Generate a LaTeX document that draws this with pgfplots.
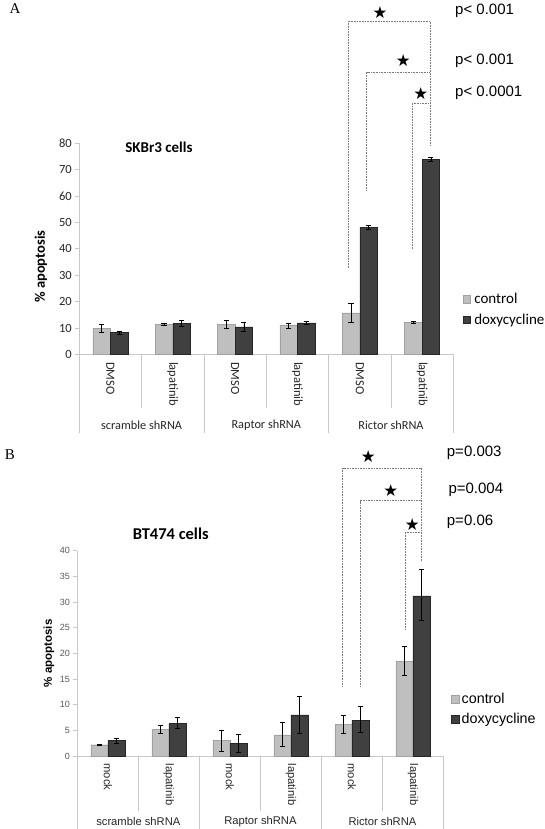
\documentclass[border=0pt]{standalone}
\usepackage{fontspec}
\setmainfont{Carlito}
\newfontfamily\arialf{Liberation Sans}
\newfontfamily\seriff{Liberation Serif}
\newfontfamily\dejavu{DejaVu Sans}
\usepackage{pgfplots}
\pgfplotsset{compat=1.18}
\usepackage{pgfplotstable}

\definecolor{ctrl}{HTML}{BFBFBF}
\definecolor{doxy}{HTML}{404040}
\definecolor{axgray}{HTML}{C8C8C8}
\definecolor{brk}{HTML}{7A7A7A}

\pgfplotstableread{
x cy cep cem dy dep dem
0 9.8 1.6 1.4 8.3 0.5 0.5
1 11.5 0.35 0.35 11.8 1.2 1.2
2 11.5 1.5 1.5 10.5 1.75 1.75
3 11.0 1.0 1.0 12.0 0.5 0.5
4 15.8 3.7 3.6 48.2 0.7 0.7
5 12.3 0.3 0.3 73.8 0.9 0.8
}\skbr

\pgfplotstableread{
x cy cep cem dy dep dem
0 2.2 0.15 0.15 3.0 0.45 0.45
1 5.2 0.7 0.7 6.3 1.3 1.0
2 3.0 2.1 2.0 2.5 1.8 1.8
3 4.1 2.4 2.3 8.0 3.7 3.5
4 6.1 1.8 1.6 7.0 2.6 2.3
5 18.5 2.8 2.7 31.2 5.1 4.8
}\btf

\pgfplotsset{
  panel/.style={
    scale only axis, anchor=south west,
    xmin=-0.5, xmax=5.5, ymin=0,
    axis lines*=left,
    axis line style={draw=axgray, line width=0.9pt},
    ybar=0pt,
    xtick={0,...,5}, xtick style={draw=none},
    tick align=outside, major tick length=4pt,
    ytick style={draw=axgray, line width=0.9pt},
    clip=false,
    xticklabel style={rotate=-90, anchor=west},
    /pgf/number format/assume math mode=true,
    legend image code/.code={\fill[##1] (0pt,-3.7pt) rectangle (7.4pt,3.7pt);},
    legend cell align=left,
  },
  cbar/.style={fill=ctrl, draw=ctrl!85!black, line width=0.4pt,
    error bars/.cd, y dir=both, y explicit,
    error bar style={black, line width=0.6pt},
    error mark options={black, rotate=90, mark size=2.6pt, line width=0.6pt}},
  dbar/.style={fill=doxy, draw=black!85, line width=0.4pt,
    error bars/.cd, y dir=both, y explicit,
    error bar style={black, line width=0.6pt},
    error mark options={black, rotate=90, mark size=2.6pt, line width=0.6pt}},
}

\begin{document}
\begin{tikzpicture}
\useasboundingbox (0,0) rectangle (545pt,829pt);

% ---------------- Panel A ----------------
\begin{axis}[panel,
  at={(79.3pt,474.5pt)}, width=374pt, height=211.2pt,
  ymax=80, ytick={0,10,...,80},
  bar width=17.5pt,
  xticklabels={DMSO,lapatinib,DMSO,lapatinib,DMSO,lapatinib},
  xticklabel style={font=\fontsize{12.5}{14}\selectfont, text=black!85},
  yticklabel style={font=\fontsize{12.5}{14}\selectfont, text=black!85},
  legend style={at={(axis description cs:1.0251,0.2131)}, anchor=west,
    draw=none, fill=none, inner sep=0pt, row sep=9pt, column sep=3.6pt,
    nodes={inner sep=0pt}, font=\fontsize{15}{17}\selectfont},
]
\addplot[cbar] table[x=x, y=cy, y error plus=cep, y error minus=cem] {\skbr};
\addplot[dbar] table[x=x, y=dy, y error plus=dep, y error minus=dem] {\skbr};
\legend{control, doxycycline}
\end{axis}

% ---------------- Panel B ----------------
\begin{axis}[panel,
  at={(77.3pt,73pt)}, width=366.2pt, height=205.3pt,
  ymax=40, ytick={0,5,...,40},
  bar width=17pt,
  xticklabels={mock,lapatinib,mock,lapatinib,mock,lapatinib},
  xticklabel style={font=\arialf\fontsize{11.2}{13}\selectfont, text=black!85},
  yticklabel style={font=\arialf\fontsize{9}{11}\selectfont, text=black!65},
  legend style={at={(axis description cs:1.0205,0.228)}, anchor=west,
    draw=none, fill=none, inner sep=0pt, row sep=8pt, column sep=2.7pt,
    nodes={inner sep=0pt}, font=\arialf\fontsize{14.3}{16}\selectfont},
]
\addplot[cbar] table[x=x, y=cy, y error plus=cep, y error minus=cem] {\btf};
\addplot[dbar] table[x=x, y=dy, y error plus=dep, y error minus=dem] {\btf};
\legend{control, doxycycline}
\end{axis}

% ---------------- annotations (pixel frame) ----------------
\begin{scope}[x=1pt, y=-1pt, yshift=829pt]
  % panel letters
  \node[font=\seriff\fontsize{15}{17}\selectfont] at (15,8.3) {A};
  \node[font=\seriff\fontsize{15}{17}\selectfont] at (10,455) {B};

  % panel A category separators
  \foreach \xx in {141.63,266.3,390.97} \draw[axgray, line width=0.9pt] (\xx,354.5) -- (\xx,408);
  \foreach \xx in {79.3,203.97,328.63,453.3} \draw[axgray, line width=0.9pt] (\xx,354.5) -- (\xx,433);
  \foreach \xx/\tt in {141.63/scramble shRNA,266.3/Raptor shRNA,390.97/Rictor shRNA}
    \node[font=\fontsize{12.3}{14}\selectfont, text=black!85] at (\xx,425.7) {\tt};

  % panel B category separators
  \foreach \xx in {138.33,260.4,382.47} \draw[axgray, line width=0.9pt] (\xx,756) -- (\xx,811);
  \foreach \xx in {77.3,199.37,321.43,443.5} \draw[axgray, line width=0.9pt] (\xx,756) -- (\xx,829);
  \foreach \xx/\tt in {138.33/scramble shRNA,260.4/Raptor shRNA,382.47/Rictor shRNA}
    \node[font=\arialf\fontsize{11.2}{13}\selectfont, text=black!85] at (\xx,821.7) {\tt};

  % titles and axis labels
  \node[font=\bfseries\fontsize{15}{17}\selectfont] at (159,147.3) {SKBr3 cells};
  \node[font=\bfseries\fontsize{14.5}{17}\selectfont, rotate=90] at (41,266.7) {\% apoptosis};
  \node[font=\bfseries\fontsize{16.5}{19}\selectfont] at (170.8,534) {BT474 cells};
  \node[font=\arialf\bfseries\fontsize{11.5}{13}\selectfont, rotate=90] at (49,653.3) {\% apoptosis};

  % panel A brackets
  \begin{scope}[brk, line width=0.8pt, dash pattern=on 0.9pt off 0.7pt]
    \draw (348.3,268.3) -- (348.3,21) -- (430,21) -- (430,146);
    \draw (366.7,191) -- (366.7,72) -- (430,72);
    \draw (412.3,249.3) -- (412.3,103.3) -- (430,103.3);
  \end{scope}
  \foreach \sx/\sy in {380/12.3,403.3/61,420.7/93.3}
    \node[font=\dejavu\fontsize{16.5}{18}\selectfont, inner sep=0pt] at (\sx,\sy) {★};
  \node[font=\arialf\fontsize{15}{17}\selectfont, anchor=west, inner sep=0pt] at (455,11) {p< 0.001};
  \node[font=\arialf\fontsize{15}{17}\selectfont, anchor=west, inner sep=0pt] at (455,61) {p< 0.001};
  \node[font=\arialf\fontsize{15}{17}\selectfont, anchor=west, inner sep=0pt] at (455,93.3) {p< 0.0001};

  % panel B brackets
  \begin{scope}[brk, line width=0.8pt, dash pattern=on 0.9pt off 0.7pt]
    \draw (342.7,686.7) -- (342.7,468.3) -- (421,468.3) -- (421,561.7);
    \draw (360,686.7) -- (360,500.7) -- (421,500.7);
    \draw (405,630) -- (405,532.3) -- (421,532.3);
  \end{scope}
  \foreach \sx/\sy in {368.3/456.7,390.7/491,412.3/524.3}
    \node[font=\dejavu\fontsize{16.5}{18}\selectfont, inner sep=0pt] at (\sx,\sy) {★};
  \node[font=\arialf\fontsize{15}{17}\selectfont, anchor=west, inner sep=0pt] at (446.7,453.3) {p=0.003};
  \node[font=\arialf\fontsize{15}{17}\selectfont, anchor=west, inner sep=0pt] at (448.3,490) {p=0.004};
  \node[font=\arialf\fontsize{15}{17}\selectfont, anchor=west, inner sep=0pt] at (446.7,521.7) {p=0.06};
\end{scope}
\end{tikzpicture}
\end{document}
